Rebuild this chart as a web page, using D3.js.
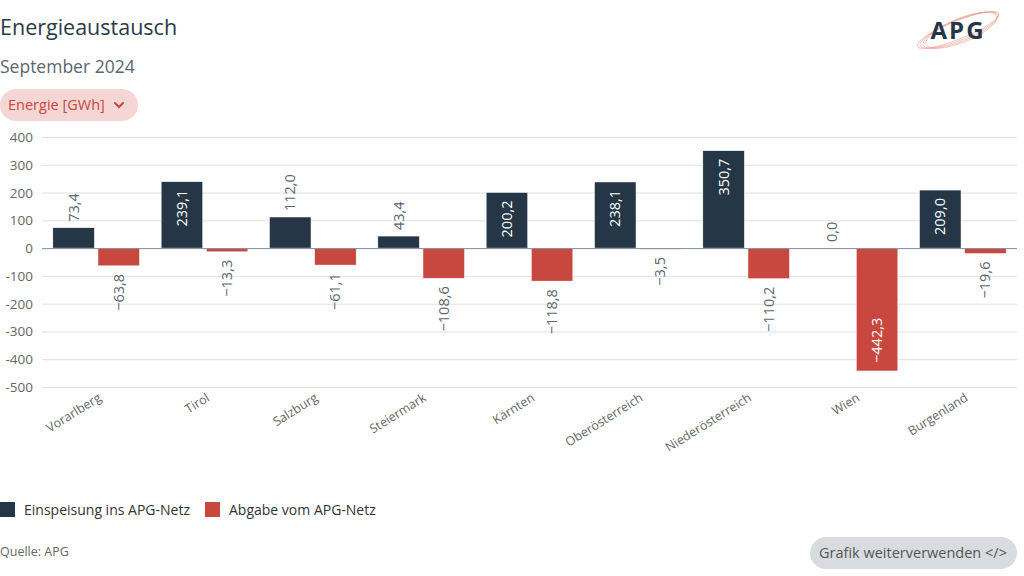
<!DOCTYPE html>
<html><head><meta charset="utf-8">
<script src="https://cdn.jsdelivr.net/npm/d3@7"></script>
<style>
body{margin:0;background:#fff;}
svg{display:block;font-family:"Open Sans","DejaVu Sans",sans-serif;}
</style></head>
<body><svg id="c" width="1024" height="576"></svg>
<script>
const categories = ["Vorarlberg","Tirol","Salzburg","Steiermark","Kärnten","Oberösterreich","Niederösterreich","Wien","Burgenland"];
const einspeisung = [73.4, 239.1, 112.0, 43.4, 200.2, 238.1, 350.7, 0.0, 209.0];
const abgabe = [-63.8, -13.3, -61.1, -108.6, -118.8, -3.5, -110.2, -442.3, -19.6];
const yTicks = [400,300,200,100,0,-100,-200,-300,-400,-500];
const seriesNames = ["Einspeisung ins APG-Netz","Abgabe vom APG-Netz"];
const colors = ["#253746","#c8473e"];

const svg = d3.select("#c");
const L = 42, R = 1017, T = 137, B = 387;
const x = d3.scaleBand().domain(categories).range([L,R]).paddingInner(0.2).paddingOuter(0.1);
const xs = d3.scaleBand().domain([0,1]).range([0,x.bandwidth()]).paddingInner(0.08);
const y = d3.scaleLinear().domain([-500,400]).range([B,T]);

// title
svg.append("text").attr("x",0).attr("y",35).attr("fill","#2b3a47").attr("font-size",21.5).attr("font-weight",500).text("Energieaustausch");
svg.append("text").attr("x",0).attr("y",73).attr("fill","#5b6670").attr("font-size",17.5).text("September 2024");
// dropdown pill
svg.append("rect").attr("x",0).attr("y",89).attr("width",138).attr("height",32).attr("rx",16).attr("fill","#f6d6d4");
svg.append("text").attr("x",8).attr("y",110).attr("fill","#c9463d").attr("font-size",14.5).text("Energie [GWh]");
svg.append("path").attr("d","M115,103 L119,107 L123,103").attr("fill","none").attr("stroke","#c9463d").attr("stroke-width",2).attr("stroke-linecap","round");

// logo
const lg = svg.append("g").attr("transform","translate(958,30)");
[0,1,2,3].forEach(i=>{
  lg.append("ellipse").attr("cx",0).attr("cy",0).attr("rx",44-i*2).attr("ry",9+i).attr("transform",`rotate(-22) translate(${i},${i*0.5})`)
    .attr("fill","none").attr("stroke","#e8928b").attr("stroke-width",0.6).attr("opacity",0.8);
});
lg.append("text").attr("x",0).attr("y",9).attr("text-anchor","middle").attr("font-size",24).attr("font-weight",700).attr("fill","#243746").attr("letter-spacing",2).text("APG");

// grid
svg.append("g").selectAll("line").data(yTicks).join("line")
  .attr("x1",L).attr("x2",R).attr("y1",d=>y(d)+0.5).attr("y2",d=>y(d)+0.5)
  .attr("stroke","#e0e0e0").attr("stroke-width",1);
svg.append("g").selectAll("text").data(yTicks).join("text")
  .attr("x",33).attr("y",d=>y(d)+5).attr("text-anchor","end").attr("fill","#666").attr("font-size",13.5)
  .text(d=>String(d));

const fmt = v => (v<0?"\u2212":"") + Math.abs(v).toFixed(1).replace(".",",");
const data = [];
categories.forEach((c,i)=>{
  data.push({c,s:0,v:einspeisung[i]});
  data.push({c,s:1,v:abgabe[i]});
});

svg.append("g").selectAll("rect").data(data).join("rect")
  .attr("x",d=>x(d.c)+xs(d.s)).attr("width",xs.bandwidth())
  .attr("y",d=>Math.min(y(d.v),y(0))).attr("height",d=>Math.abs(y(d.v)-y(0)))
  .attr("fill",d=>colors[d.s]).attr("stroke","#fff").attr("stroke-width",0.5);

// zero line
svg.append("line").attr("x1",L).attr("x2",R).attr("y1",y(0)+0.5).attr("y2",y(0)+0.5).attr("stroke","#8a8ea0").attr("stroke-width",1);

// value labels
const lbl = svg.append("g");
data.forEach(d=>{
  const cx = x(d.c)+xs(d.s)+xs.bandwidth()/2 + 5;
  const t = lbl.append("text").attr("font-size",14.5).text(fmt(d.v));
  const w = t.node().getComputedTextLength();
  const h = Math.abs(y(d.v)-y(0));
  const inside = w + 16 < h;
  let ay;
  if (d.v >= 0) {
    if (inside) { ay = y(d.v)+8; t.attr("text-anchor","end").attr("fill","#fff"); }
    else { ay = y(d.v)-6; t.attr("text-anchor","start").attr("fill","#5b6670"); }
  } else {
    if (inside) { ay = y(d.v)-8; t.attr("text-anchor","start").attr("fill","#fff"); }
    else { ay = y(d.v)+8; t.attr("text-anchor","end").attr("fill","#5b6670"); }
  }
  t.attr("transform",`translate(${cx},${ay}) rotate(-90)`);
});

// x labels
svg.append("g").selectAll("text").data(categories).join("text")
  .attr("text-anchor","end").attr("fill","#666").attr("font-size",12.5)
  .attr("transform",d=>`translate(${x(d)+x.bandwidth()/2+6},${B+13}) rotate(-32)`)
  .text(d=>d);

// legend
svg.append("rect").attr("x",0).attr("y",502).attr("width",15).attr("height",15).attr("fill",colors[0]);
svg.append("text").attr("x",24).attr("y",515).attr("fill","#333").attr("font-size",14).text(seriesNames[0]);
svg.append("rect").attr("x",205).attr("y",502).attr("width",15).attr("height",15).attr("fill",colors[1]);
svg.append("text").attr("x",229).attr("y",515).attr("fill","#333").attr("font-size",14).text(seriesNames[1]);

// footer
svg.append("text").attr("x",0).attr("y",556).attr("fill","#666").attr("font-size",12.5).text("Quelle: APG");
svg.append("rect").attr("x",810).attr("y",537).attr("width",207).attr("height",32).attr("rx",16).attr("fill","#d9dcdf");
svg.append("text").attr("x",913).attr("y",558).attr("text-anchor","middle").attr("fill","#555").attr("font-size",14.5).text("Grafik weiterverwenden </>");
</script></body></html>
